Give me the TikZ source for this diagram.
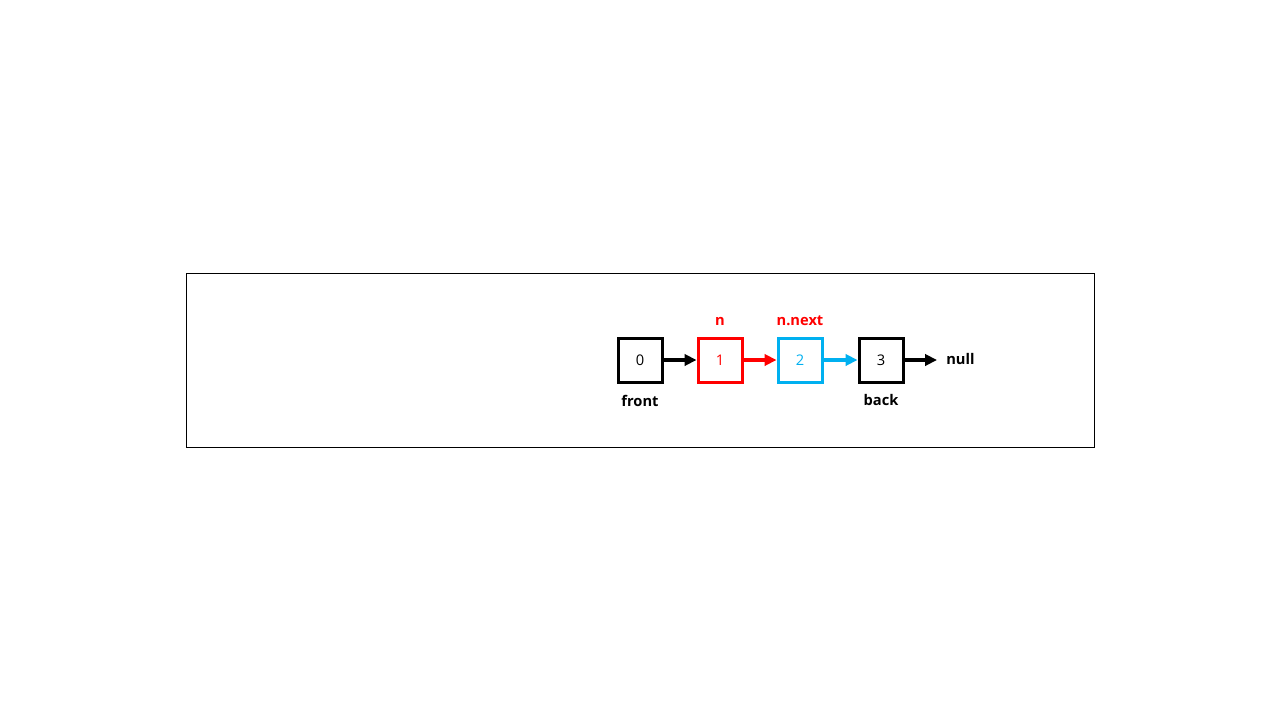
\documentclass[tikz,border=0pt]{standalone}
\usepackage{fontspec}
\setmainfont{Open Sans}
\usetikzlibrary{arrows.meta}
\definecolor{myred}{HTML}{FF0000}
\definecolor{myblue}{HTML}{00B0F0}
\begin{document}
\begin{tikzpicture}[x=0.75pt,y=-0.75pt,
  cell/.style={draw=#1, line width=2.25pt, minimum size=33pt, inner sep=0pt, font=\fontsize{11}{13}\selectfont, text=#1},
  link/.style={draw=#1, line width=3pt, -{Triangle[length=9pt,width=8.5pt]}, shorten >=0pt},
  lbl/.style={font=\fontsize{11}{13}\selectfont\bfseries, text=#1},
]
\useasboundingbox (0,0) rectangle (1280,720);
\node[draw=black, line width=0.75pt, minimum width=681pt, minimum height=130.5pt, inner sep=0pt] (frame) at (640,360) {};
\node[cell=black] (c0) at (640,360) {0};
\node[cell=myred] (c1) at (720,360) {1};
\node[cell=myblue] (c2) at (800,360) {2};
\node[cell=black] (c3) at (881,360) {3};
\node[lbl=black, anchor=west, inner sep=0pt] (null) at (946,359) {null};
\coordinate (nullend) at (937,360);
\draw[link=black] (c0) -- (c1);
\draw[link=myred] (c1) -- (c2);
\draw[link=myblue] (c2) -- (c3);
\draw[link=black] (c3.east) -- (nullend);
\node[lbl=black] (front) at (640,401) {front};
\node[lbl=black] (back) at (881,400) {back};
\node[lbl=myred] (n) at (720,321) {n};
\node[lbl=myred] (nnext) at (800,321) {n.next};
\end{tikzpicture}
\end{document}
